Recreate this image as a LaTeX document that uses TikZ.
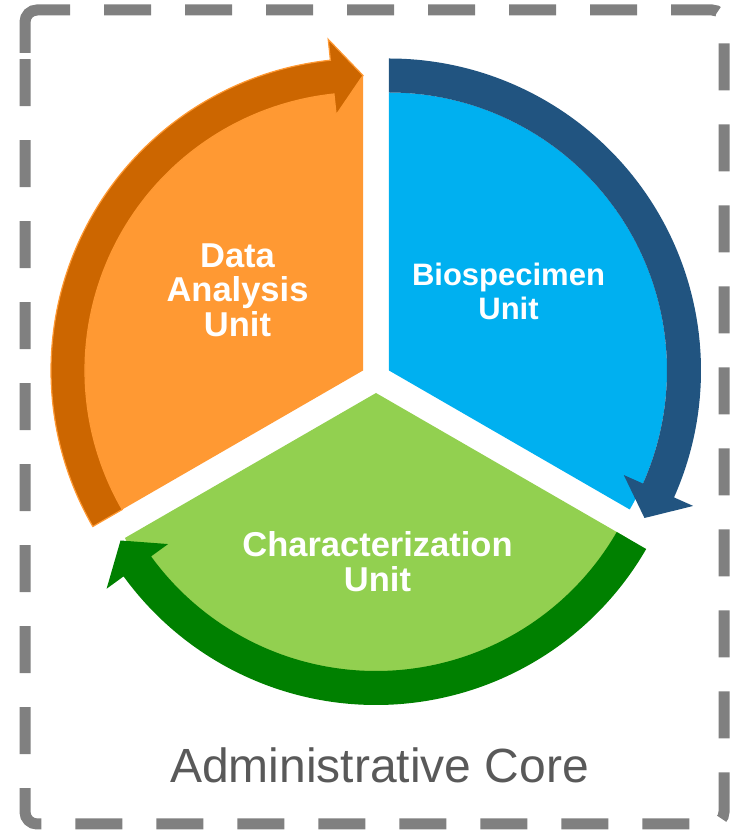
\documentclass[tikz,border=0pt]{standalone}
\usepackage{fontspec}
\setmainfont{Liberation Sans}
\usetikzlibrary{calc}
\definecolor{dataL}{HTML}{FF9933}
\definecolor{dataD}{HTML}{CC6600}
\definecolor{bioL}{HTML}{00B0F0}
\definecolor{bioD}{HTML}{215480}
\definecolor{charL}{HTML}{92D050}
\definecolor{charD}{HTML}{008000}
\definecolor{frameGray}{HTML}{808080}
\definecolor{coreGray}{HTML}{595959}

\begin{document}
\begin{tikzpicture}[x=1pt,y=1pt,
	unitlabel/.style={text=white,font=\bfseries\fontsize{34.5}{34.5}\selectfont,align=center,inner sep=0pt},
	coreframe/.style={draw=frameGray,line width=11pt,rounded corners=12pt}]
	\useasboundingbox (0,0) rectangle (733,830);
	% centre of the pie, slices pushed out a little
	\coordinate (ctr) at (376,452);
	\coordinate (data) at ($(ctr)+(150:15)$);
	\coordinate (bio) at ($(ctr)+(30:15)$);
	\coordinate (char) at ($(ctr)+(270:15)$);
	% slices
	\fill[dataL] (data) -- ++(210:295) arc[start angle=210,end angle=90,radius=295] -- cycle;
	\fill[bioL] (bio) -- ++(90:278) arc[start angle=90,end angle=-30,radius=278] -- cycle;
	\fill[charL] (char) -- ++(330:290) arc[start angle=330,end angle=210,radius=290] -- cycle;
	% data analysis arrow
	\begin{scope}[shift={(data)}]
	\filldraw[fill=dataD,draw=dataL,line width=1.2pt] (210:278) arc[start angle=210,end angle=96,radius=278]
	-- (96:257) -- (90:295) -- (96:333) -- (96:312) arc[start angle=96,end angle=210,radius=312] -- cycle;
	\end{scope}
	% biospecimen arrow
	\begin{scope}[shift={(bio)}]
	\fill[bioD] (90:278) arc[start angle=90,end angle=-24,radius=278]
	-- (-24:257) -- (-30:295) -- (-24:333) -- (-24:312) arc[start angle=-24,end angle=90,radius=312] -- cycle;
	\end{scope}
	% characterization arrow
	\begin{scope}[shift={(char)}]
	\fill[charD] (330:278) arc[start angle=330,end angle=216,radius=278]
	-- (216:257) -- (210:295) -- (216:333) -- (216:312) arc[start angle=216,end angle=330,radius=312] -- cycle;
	\end{scope}
	% labels
	\node[unitlabel] (dataTxt) at (237.5,540) {Data\\Analysis\\Unit};
	\node[unitlabel,font=\bfseries\fontsize{31}{34}\selectfont] (bioTxt) at (508.5,539) {Biospecimen\\Unit};
	\node[unitlabel] (charTxt) at (377.5,268.5) {Characterization\\Unit};
	\node[text=coreGray,font=\fontsize{48}{50}\selectfont,anchor=base,inner sep=0pt] (core) at (379.5,47) {Administrative Core};
	% dashed frame
	\draw[coreframe] (25,777) -- (25,820) -- (70,820);
	\draw[coreframe,dash pattern=on 47pt off 34pt,dash phase=47pt] (70,820) -- (724,820) -- (724,6) -- (25,6) -- (25,777);
\end{tikzpicture}
\end{document}
